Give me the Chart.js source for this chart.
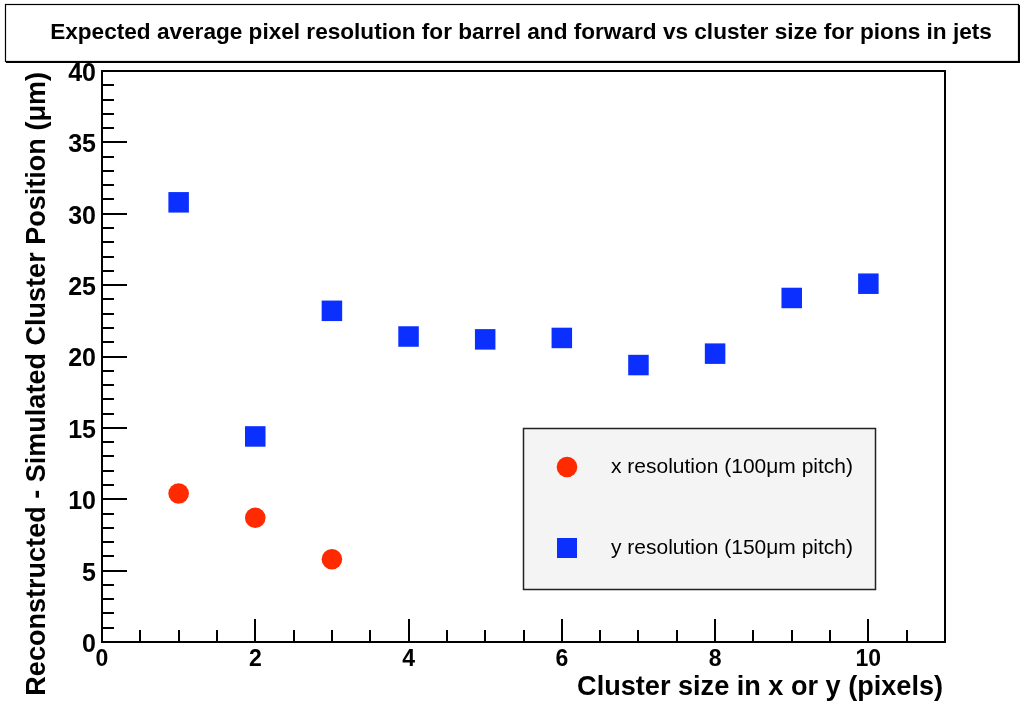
<!DOCTYPE html>
<html>
<head>
<meta charset="utf-8">
<script src="https://cdn.jsdelivr.net/npm/chart.js@4.4.1/dist/chart.umd.min.js"></script>
<style>
  body { margin: 0; background: #fff; }
  #wrap { width: 1024px; height: 706px; }
</style>
</head>
<body>
<div id="wrap"><canvas id="chart" width="1024" height="706"></canvas></div>
<script>
// data
const clusterSizeX = [1, 2, 3];
const xResolution = [10.4, 8.7, 5.8];
const clusterSizeY = [1, 2, 3, 4, 5, 6, 7, 8, 9, 10];
const yResolution = [30.8, 14.4, 23.2, 21.4, 21.2, 21.3, 19.4, 20.2, 24.1, 25.1];

const xTickLabels = [0, 2, 4, 6, 8, 10];
const yTickLabels = [0, 5, 10, 15, 20, 25, 30, 35, 40];

const titleText = 'Expected average pixel resolution for barrel and forward vs cluster size for pions in jets';
const xTitle = 'Cluster size in x or y (pixels)';
const yTitle = 'Reconstructed - Simulated Cluster Position (\u03bcm)';

const RED = '#ff2a00';
const BLUE = '#0b2fff';
const FONT = '"Liberation Sans", Arial, Helvetica, sans-serif';

// pick the font size that makes text about as wide as in the reference
function fitFont(ctx, text, weight, width) {
    ctx.font = weight + ' 100px ' + FONT;
    const size = 100 * width / ctx.measureText(text).width;
    ctx.font = weight + ' ' + size.toFixed(2) + 'px ' + FONT;
    return size;
}

const rootStyle = {
    id: 'rootStyle',
    beforeDraw(chart) {
        const ctx = chart.ctx;
        ctx.save();
        ctx.fillStyle = '#fff';
        ctx.fillRect(0, 0, chart.width, chart.height);
        ctx.restore();
    },
    afterDatasetsDraw(chart) {
        const ctx = chart.ctx;
        const a = chart.chartArea;
        const xs = chart.scales.x;
        const ys = chart.scales.y;
        ctx.save();

        // frame
        ctx.strokeStyle = '#000';
        ctx.lineWidth = 2;
        ctx.strokeRect(a.left, a.top, a.right - a.left, a.bottom - a.top);

        // y ticks (inside the frame)
        for (let v = 0; v <= 40; v += 1) {
            const py = Math.round(ys.getPixelForValue(v));
            const len = v % 5 === 0 ? 25 : 12;
            ctx.beginPath();
            ctx.moveTo(a.left, py);
            ctx.lineTo(a.left + len, py);
            ctx.stroke();
        }
        // x ticks
        for (let v = 0; v <= 11; v += 0.5) {
            const px = Math.round(xs.getPixelForValue(v));
            const len = v % 2 === 0 ? 23 : 12;
            ctx.beginPath();
            ctx.moveTo(px, a.bottom);
            ctx.lineTo(px, a.bottom - len);
            ctx.stroke();
        }

        // tick labels
        ctx.fillStyle = '#000';
        ctx.font = 'bold 25px ' + FONT;
        ctx.textAlign = 'right';
        ctx.textBaseline = 'middle';
        yTickLabels.forEach(v => {
            ctx.fillText(String(v), a.left - 6, ys.getPixelForValue(v) + 3);
        });
        ctx.font = 'bold 23px ' + FONT;
        ctx.textAlign = 'center';
        ctx.textBaseline = 'top';
        xTickLabels.forEach(v => {
            ctx.fillText(String(v), xs.getPixelForValue(v), a.bottom + 6);
        });

        // axis titles
        ctx.textAlign = 'right';
        ctx.textBaseline = 'alphabetic';
        fitFont(ctx, xTitle, 'bold', 366);
        ctx.fillText(xTitle, 943, 695);
        ctx.save();
        ctx.translate(45, 72);
        ctx.rotate(-Math.PI / 2);
        fitFont(ctx, yTitle, 'bold', 624);
        ctx.fillText(yTitle, 0, 0);
        ctx.restore();

        // title box
        ctx.fillStyle = '#fff';
        ctx.fillRect(5, 4, 1014, 58);
        ctx.strokeStyle = '#000';
        ctx.lineWidth = 1.2;
        ctx.strokeRect(5.5, 4.5, 1013, 57);
        ctx.lineWidth = 2;
        ctx.beginPath();
        ctx.moveTo(6, 62);
        ctx.lineTo(1019, 62);
        ctx.lineTo(1019, 5);
        ctx.stroke();
        ctx.fillStyle = '#000';
        fitFont(ctx, titleText, 'bold', 942);
        ctx.textAlign = 'center';
        ctx.textBaseline = 'alphabetic';
        ctx.fillText(titleText, 521, 39);

        // legend box
        const lx = 523, ly = 428, lw = 352, lh = 161;
        ctx.fillStyle = '#f4f4f4';
        ctx.fillRect(lx, ly, lw, lh);
        ctx.strokeStyle = '#222';
        ctx.lineWidth = 1.5;
        ctx.strokeRect(lx + 0.5, ly + 0.5, lw, lh);
        const rows = [467, 548];
        chart.data.datasets.forEach((ds, i) => {
            const cy = rows[i];
            ctx.fillStyle = ds.backgroundColor;
            if (ds.pointStyle === 'rect') {
                ctx.fillRect(567 - 10, cy - 10, 20, 20);
            } else {
                ctx.beginPath();
                ctx.arc(567, cy, 10.3, 0, Math.PI * 2);
                ctx.fill();
            }
            ctx.fillStyle = '#000';
            fitFont(ctx, ds.label, 'normal', 242);
            ctx.textAlign = 'left';
            ctx.textBaseline = 'middle';
            ctx.fillText(ds.label, 611, cy);
        });

        ctx.restore();
    }
};

new Chart(document.getElementById('chart'), {
    type: 'scatter',
    data: {
        datasets: [
            {
                label: 'x resolution (100\u03bcm pitch)',
                data: clusterSizeX.map((x, i) => ({ x: x, y: xResolution[i] })),
                pointStyle: 'circle',
                pointRadius: 10.3,
                pointHoverRadius: 10.3,
                backgroundColor: RED,
                borderColor: RED,
                borderWidth: 0
            },
            {
                label: 'y resolution (150\u03bcm pitch)',
                data: clusterSizeY.map((x, i) => ({ x: x, y: yResolution[i] })),
                pointStyle: 'rect',
                pointRadius: 14.5,
                pointHoverRadius: 14.5,
                backgroundColor: BLUE,
                borderColor: BLUE,
                borderWidth: 0
            }
        ]
    },
    options: {
        responsive: false,
        animation: false,
        layout: { padding: { left: 102, top: 71, right: 79, bottom: 64 } },
        plugins: {
            legend: { display: false },
            tooltip: { enabled: false },
            title: { display: false }
        },
        scales: {
            x: { type: 'linear', min: 0, max: 11, display: false },
            y: { type: 'linear', min: 0, max: 40, display: false }
        }
    },
    plugins: [rootStyle]
});
</script>
</body>
</html>
